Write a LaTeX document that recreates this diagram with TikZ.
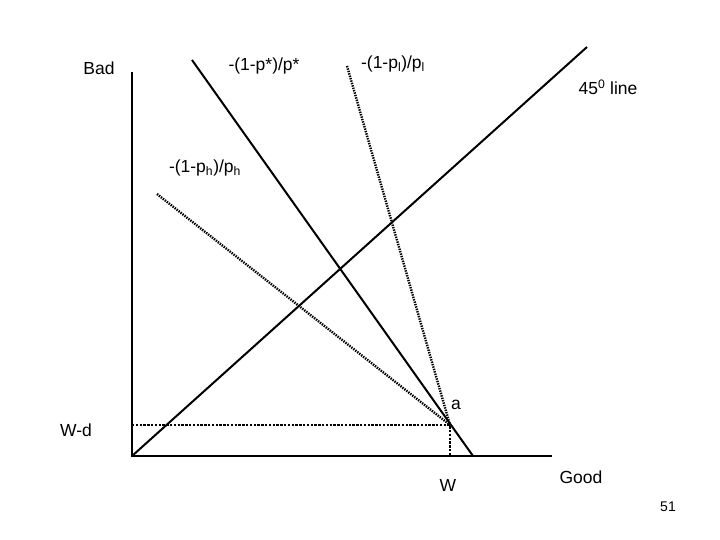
\documentclass[tikz,border=0pt]{standalone}
\usepackage{fontspec}
\setmainfont{Liberation Sans}

\begin{document}
\begin{tikzpicture}[x=1pt,y=-1pt,
  curve/.style={line width=2pt},
  dotcurve/.style={line width=2.4pt,dash pattern=on 1.4pt off 1.1pt},
  guide/.style={line width=1.4pt,dash pattern=on 2.4pt off 1.4pt},
  lbl/.style={font=\fontsize{17.5}{20}\selectfont,inner sep=0pt}]
  \useasboundingbox (0,0) rectangle (720,540);

  % axes
  \coordinate (O) at (132,456);
  \coordinate (ytop) at (132,72);
  \coordinate (xend) at (552,456);
  \draw[curve] (ytop) -- (O) -- (xend);

  % 45 degree line
  \coordinate (diagend) at (587,47);
  \draw[curve] (O) -- (diagend);

  % fair odds line
  \coordinate (pstop) at (192,60);
  \coordinate (psbot) at (473,456);
  \draw[curve] (pstop) -- (psbot);

  % endowment point and the two price lines through it
  \coordinate (a) at (450,425);
  \coordinate (pltop) at (347,66);
  \coordinate (phtop) at (157,194);
  \draw[dotcurve] (pltop) -- (a);
  \draw[dotcurve] (phtop) -- (a);

  % guides to the axes
  \coordinate (Wd) at (132,425);
  \coordinate (W) at (450,456);
  \draw[guide] (Wd) -- (a) -- (W);

  % labels
  \node[lbl] (bad) at (99,68) {Bad};
  \node[lbl] (good) at (581,477) {Good};
  \node[lbl] (pslbl) at (264,66) {-(1-p*)/p*};
  \node[lbl] (pllbl) at (393,64) {-(1-p\textsubscript{l})/p\textsubscript{l}};
  \node[lbl] (phlbl) at (205,168) {-(1-p\textsubscript{h})/p\textsubscript{h}};
  \node[lbl] (diaglbl) at (608,87) {45\textsuperscript{0} line};
  \node[lbl] (albl) at (456,405) {a};
  \node[lbl] (wdlbl) at (76,430) {W-d};
  \node[lbl] (wlbl) at (448,485) {W};
  \node[font=\fontsize{14}{16}\selectfont] (page) at (668,507) {51};
\end{tikzpicture}
\end{document}
